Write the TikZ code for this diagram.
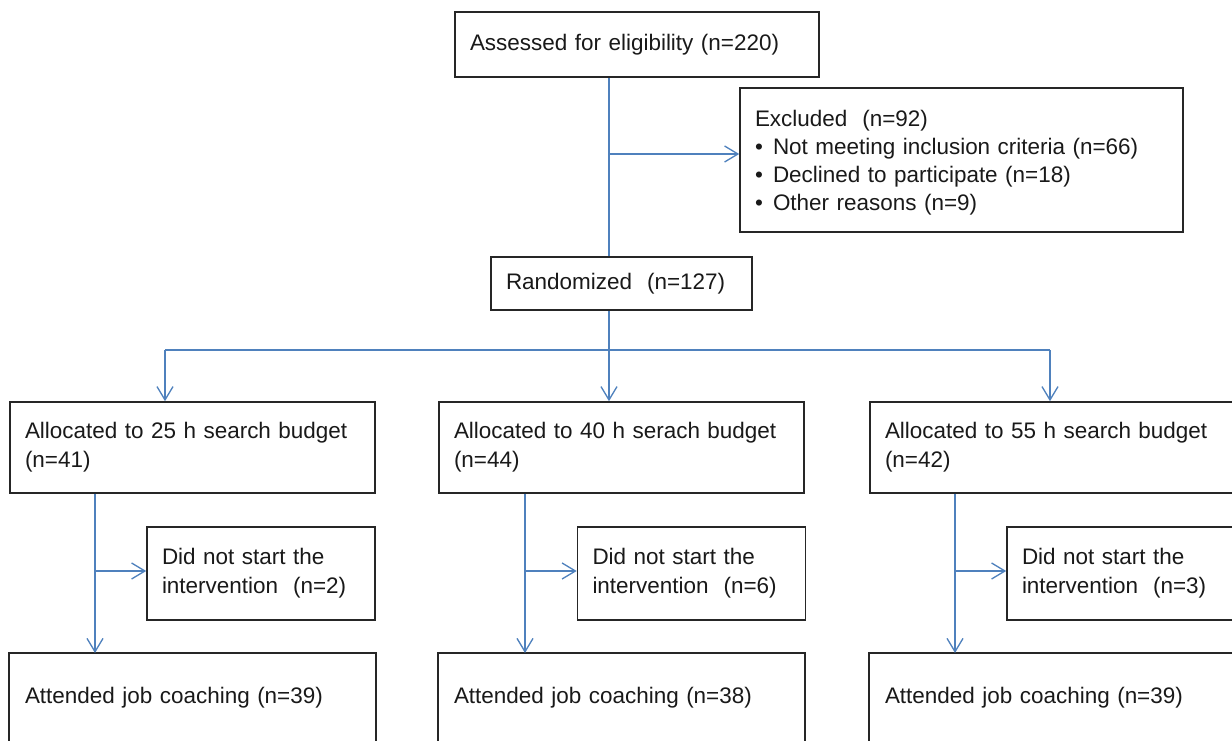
\documentclass[tikz,border=0pt]{standalone}
\usepackage{fontspec}
\setmainfont{Liberation Sans}
\usetikzlibrary{arrows.meta}

\definecolor{linkblue}{RGB}{79,129,189}
\definecolor{boxline}{RGB}{38,38,38}
\newcommand{\itm}{\makebox[13.5pt][l]{\textbullet}}

\tikzset{every picture/.style={line width=0.75pt}}
\tikzset{
  flowbox/.style={draw=boxline, line width=1.2pt, align=left, inner xsep=11.25pt, inner ysep=0pt,
    text=black!90, font=\fontsize{16.85}{21.5}\selectfont},
  openbox/.style={flowbox, draw=none, anchor=north, inner ysep=25.5pt, text height=12pt, text depth=45pt},
  flowlink/.style={draw=linkblue, line width=1pt},
  flowarrow/.style={flowlink, -{Straight Barb[length=10pt,width=12pt,line width=1pt]}},
}

\begin{document}
\begin{tikzpicture}[x=0.75pt,y=0.75pt,yscale=-1,xscale=1]
\useasboundingbox (0,0) rectangle (1232,740);
\clip (0,0) rectangle (1232,740);

% Enrolment
\node[flowbox, text width=250.5pt, minimum height=48.75pt] (assess) at (637,44.5) {Assessed for eligibility (n=220)};
\node[flowbox, text width=309.75pt, minimum height=108pt, font=\fontsize{16.85}{21}\selectfont,
  text height=16pt] (excl) at (961.5,160) {Excluded\ \ (n=92)\\
  \itm Not meeting inclusion criteria (n=66)\\
  \itm Declined to participate (n=18)\\
  \itm Other reasons (n=9)};
\node[flowbox, text width=173.25pt, minimum height=39.75pt] (rand) at (621.5,283.5) {Randomized\ \ (n=127)};

% Allocation
\node[flowbox, text width=251.25pt, minimum height=68.25pt] (allocA) at (192.5,447.5) {Allocated to 25 h search budget\\(n=41)};
\node[flowbox, text width=251.25pt, minimum height=68.25pt] (allocB) at (621.5,447.5) {Allocated to 40 h serach budget\\(n=44)};
\node[flowbox, text width=251.25pt, minimum height=68.25pt] (allocC) at (1052.5,447.5) {Allocated to 55 h search budget\\(n=42)};

% Did not start
\node[flowbox, text width=148.5pt, minimum height=69.75pt] (dnsA) at (261,573.5) {Did not start the\\intervention\ \ (n=2)};
\node[flowbox, text width=148.5pt, minimum height=69.75pt] (dnsB) at (691.5,573.5) {Did not start the\\intervention\ \ (n=6)};
\node[flowbox, text width=148.5pt, minimum height=69.75pt] (dnsC) at (1121,573.5) {Did not start the\\intervention\ \ (n=3)};

% Attended (boxes run past the lower edge)
\node[openbox, text width=251.25pt] (attA) at (192.5,653) {Attended job coaching (n=39)};
\node[openbox, text width=251.25pt] (attB) at (621.5,653) {Attended job coaching (n=38)};
\node[openbox, text width=251.25pt] (attC) at (1052.5,653) {Attended job coaching (n=39)};
\foreach \n in {attA,attB,attC}
  \draw[boxline, line width=1.2pt] (\n.south west) |- (\n.north east) -- (\n.south east);

% Junctions
\coordinate (spine) at (609,350);
\coordinate (excljoin) at (609,154);
\coordinate (busleft) at (165,350);
\coordinate (busright) at (1050,350);
\coordinate (stemA) at (95,571);
\coordinate (stemB) at (525,571);
\coordinate (stemC) at (955,571);

% Connectors
\draw[flowlink] (spine |- assess.south) -- (spine |- rand.north);
\draw[flowarrow] (excljoin) -- (excljoin -| excl.west);
\draw[flowlink] (spine |- rand.south) -- (spine);
\draw[flowlink] (busleft) -- (busright);
\draw[flowarrow] (busleft) -- (busleft |- allocA.north);
\draw[flowarrow] (spine) -- (spine |- allocB.north);
\draw[flowarrow] (busright) -- (busright |- allocC.north);

\draw[flowarrow] (stemA |- allocA.south) -- (stemA |- attA.north);
\draw[flowarrow] (stemA) -- (stemA -| dnsA.west);
\draw[flowarrow] (stemB |- allocB.south) -- (stemB |- attB.north);
\draw[flowarrow] (stemB) -- (stemB -| dnsB.west);
\draw[flowarrow] (stemC |- allocC.south) -- (stemC |- attC.north);
\draw[flowarrow] (stemC) -- (stemC -| dnsC.west);

\end{tikzpicture}
\end{document}
